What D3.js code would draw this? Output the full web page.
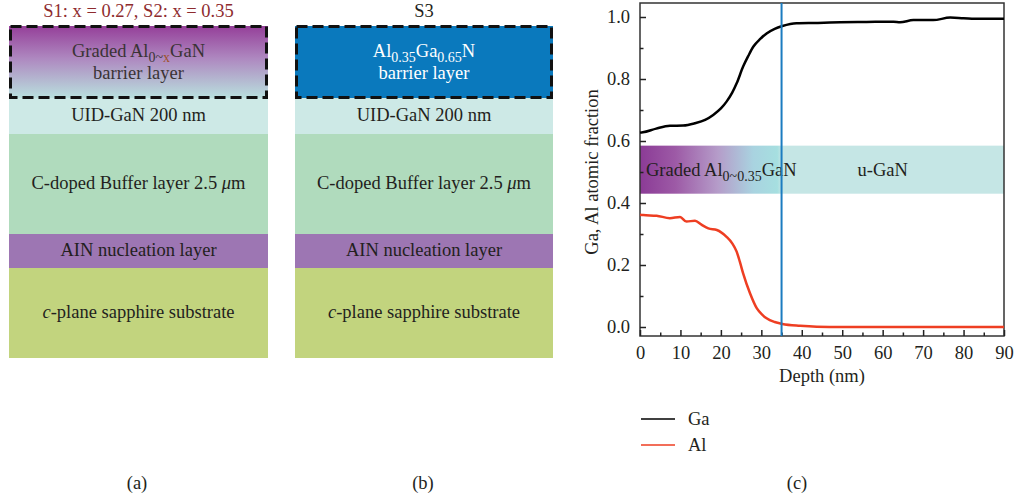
<!DOCTYPE html>
<html>
<head>
<meta charset="utf-8">
<script src="https://cdn.jsdelivr.net/npm/d3@7"></script>
<style>
  body { margin: 0; background: #fff; }
  svg { font-family: "Liberation Serif", "DejaVu Serif", serif; }
</style>
</head>
<body>
<script>
// layer stacks for (a) and (b), top to bottom; numbers are thicknesses on a schematic scale
const layerNames = ["barrier", "UID-GaN 200 nm", "C-doped Buffer layer 2.5 \u03bcm", "AIN nucleation layer", "c-plane sapphire substrate"];
const layerThick = [72, 36, 100, 34, 90];
const layerColors = [null, "#cde9e6", "#b0dbbd", "#9d76b3", "#c2d47e"];

// depth profile (c)
const gaDepth = [0, 0.7, 4, 7.4, 10.7, 13.5, 16.1, 18.1, 20, 21.4, 22.8, 23.9, 25.5, 26.8, 28.0, 29.8, 31.3, 33.3, 35.2, 38.7, 44, 49.5, 56, 62.7, 64.3, 67.6, 72.5, 76.7, 80, 84.1, 90];
const gaFrac  = [0.627, 0.628, 0.640, 0.649, 0.650, 0.657, 0.668, 0.684, 0.705, 0.727, 0.756, 0.786, 0.840, 0.875, 0.904, 0.930, 0.947, 0.962, 0.971, 0.980, 0.981, 0.983, 0.984, 0.985, 0.983, 0.990, 0.990, 0.998, 0.996, 0.994, 0.994];
const alDepth = [0, 0.8, 4.1, 7.4, 9.9, 11.5, 13.6, 15.2, 16.9, 19.0, 21.4, 22.8, 23.9, 24.7, 25.5, 27.2, 28.9, 30.2, 31.3, 33.3, 35.2, 39.6, 43.7, 50, 60, 70, 80, 90];
const alFrac  = [0.362, 0.361, 0.359, 0.351, 0.355, 0.340, 0.343, 0.330, 0.318, 0.313, 0.291, 0.270, 0.243, 0.210, 0.173, 0.109, 0.060, 0.040, 0.028, 0.016, 0.010, 0.004, 0.001, 0.0, 0.0, 0.0, 0.0, 0.0];
const xTicks = [0, 10, 20, 30, 40, 50, 60, 70, 80, 90];
const yTicks = [0.0, 0.2, 0.4, 0.6, 0.8, 1.0];
const interfaceDepth = 35;
const bandRange = [0.43, 0.585];

const fs = 18.5, fsSub = 14;

const svg = d3.select("body").append("svg")
  .attr("width", 1014).attr("height", 498);

const defs = svg.append("defs");
const gradA = defs.append("linearGradient").attr("id", "gradA")
  .attr("x1", 0).attr("y1", 0).attr("x2", 0).attr("y2", 1);
gradA.append("stop").attr("offset", "0%").attr("stop-color", "#953f99");
gradA.append("stop").attr("offset", "45%").attr("stop-color", "#ae88c0");
gradA.append("stop").attr("offset", "100%").attr("stop-color", "#b9e0de");

// ---------- panels (a) and (b) ----------
function drawStack(x0, x1, titleText, titleColor, barrierFill, barrierText, barrierTextColor, caption, captionX) {
  const g = svg.append("g");
  const yScale = d3.scaleLinear().domain([0, d3.sum(layerThick)]).range([26, 358]);
  let acc = 0;
  const tops = layerThick.map(t => { const v = acc; acc += t; return v; });

  g.selectAll("rect.layer")
    .data(layerThick)
    .join("rect")
    .attr("class", "layer")
    .attr("x", x0)
    .attr("width", x1 - x0)
    .attr("y", (d, i) => yScale(tops[i]))
    .attr("height", d => yScale(d) - yScale(0))
    .attr("fill", (d, i) => i === 0 ? barrierFill : layerColors[i]);

  // dashed outline for the barrier
  g.append("rect")
    .attr("x", x0 + 1.5).attr("y", yScale(0) + 0.5)
    .attr("width", x1 - x0 - 3).attr("height", yScale(layerThick[0]) - yScale(0) - 1)
    .attr("fill", "none").attr("stroke", "#111").attr("stroke-width", 3)
    .attr("stroke-dasharray", "11,5");

  const cx = (x0 + x1) / 2;
  const mid = i => yScale(tops[i] + layerThick[i] / 2);

  // barrier text
  const bt = g.append("text").attr("x", cx).attr("y", mid(0) - 5)
    .attr("text-anchor", "middle").attr("font-size", fs).attr("fill", barrierTextColor);
  barrierText.forEach(p => {
    bt.append("tspan").text(p.t)
      .attr("font-size", p.sub ? fsSub : fs)
      .attr("dy", p.dy)
      .attr("fill", p.color || barrierTextColor);
  });
  g.append("text").attr("x", cx).attr("y", mid(0) + 17)
    .attr("text-anchor", "middle").attr("font-size", fs).attr("fill", barrierTextColor)
    .text("barrier layer");

  for (let i = 1; i < layerNames.length; i++) {
    const t = g.append("text").attr("x", cx).attr("y", mid(i) + 5)
      .attr("text-anchor", "middle").attr("font-size", fs).attr("fill", "#231f20");
    if (i === 4) {
      t.append("tspan").attr("font-style", "italic").text("c");
      t.append("tspan").text("-plane sapphire substrate");
    } else if (i === 2) {
      t.append("tspan").text("C-doped Buffer layer 2.5 ");
      t.append("tspan").attr("font-style", "italic").text("\u03bc");
      t.append("tspan").text("m");
    } else {
      t.text(layerNames[i]);
    }
  }

  g.append("text").attr("x", cx).attr("y", 17)
    .attr("text-anchor", "middle").attr("font-size", fs).attr("fill", titleColor)
    .text(titleText);

  svg.append("text").attr("x", captionX).attr("y", 489)
    .attr("text-anchor", "middle").attr("font-size", fs).attr("fill", "#231f20")
    .text(caption);
}

drawStack(9, 268, "S1: x = 0.27, S2: x = 0.35", "#8e2b2e", "url(#gradA)", [
  { t: "Graded Al", dy: 0 },
  { t: "0~", sub: true, dy: 5 },
  { t: "x", sub: true, dy: 0, color: "#a0522d" },
  { t: "GaN", dy: -5 }
], "#3a3335", "(a)", 137);

drawStack(295, 553, "S3", "#231f20", "#0a79bd", [
  { t: "Al", dy: 0 },
  { t: "0.35", sub: true, dy: 5 },
  { t: "Ga", dy: -5 },
  { t: "0.65", sub: true, dy: 5 },
  { t: "N", dy: -5 }
], "#ffffff", "(b)", 423);

// ---------- panel (c) ----------
const x = d3.scaleLinear().domain([0, 90]).range([640, 1004]);
const y = d3.scaleLinear().domain([0, 1]).range([327, 17]);
const frameTop = 3, frameBottom = 336;

const gradB = defs.append("linearGradient").attr("id", "gradB")
  .attr("gradientUnits", "userSpaceOnUse")
  .attr("x1", x(0)).attr("x2", x(interfaceDepth)).attr("y1", 0).attr("y2", 0);
gradB.append("stop").attr("offset", "0%").attr("stop-color", "#8b3b96");
gradB.append("stop").attr("offset", "25%").attr("stop-color", "#9d5aa6");
gradB.append("stop").attr("offset", "55%").attr("stop-color", "#b59cc9");
gradB.append("stop").attr("offset", "80%").attr("stop-color", "#a9d3e0");
gradB.append("stop").attr("offset", "97%").attr("stop-color", "#a6dfe0");
gradB.append("stop").attr("offset", "100%").attr("stop-color", "#c5e6e5");

const c = svg.append("g");

c.append("rect")
  .attr("x", x(0)).attr("width", x(interfaceDepth) - x(0))
  .attr("y", y(bandRange[1])).attr("height", y(bandRange[0]) - y(bandRange[1]))
  .attr("fill", "url(#gradB)");
c.append("rect")
  .attr("x", x(interfaceDepth)).attr("width", x(90) - x(interfaceDepth))
  .attr("y", y(bandRange[1])).attr("height", y(bandRange[0]) - y(bandRange[1]))
  .attr("fill", "#c5e6e5");

const bandMid = y((bandRange[0] + bandRange[1]) / 2) + 6;
const bl = c.append("text").attr("x", x(0) + 6).attr("y", bandMid)
  .attr("font-size", fs).attr("fill", "#231f20");
bl.append("tspan").text("Graded Al");
bl.append("tspan").text("0~0.35").attr("font-size", fsSub).attr("dy", 5);
bl.append("tspan").text("GaN").attr("dy", -5);
c.append("text").attr("x", x(60)).attr("y", bandMid)
  .attr("text-anchor", "middle").attr("font-size", fs).attr("fill", "#231f20")
  .text("u-GaN");

// frame
c.append("rect")
  .attr("x", x(0)).attr("y", frameTop)
  .attr("width", x(90) - x(0)).attr("height", frameBottom - frameTop)
  .attr("fill", "none").attr("stroke", "#333").attr("stroke-width", 1.5);

// axes with inward ticks
c.append("g").attr("transform", `translate(0,${frameBottom})`)
  .call(d3.axisBottom(x).tickValues(xTicks).tickSizeInner(-6).tickSizeOuter(0).tickPadding(10).tickFormat(d3.format("d")));
c.append("g").attr("transform", `translate(0,${frameBottom})`)
  .call(d3.axisBottom(x).tickValues(d3.range(5, 90, 10)).tickSizeInner(-3.5).tickSizeOuter(0).tickFormat(""));
c.append("g").attr("transform", `translate(${x(0)},0)`)
  .call(d3.axisLeft(y).tickValues(yTicks).tickSizeInner(-6).tickSizeOuter(0).tickPadding(10).tickFormat(d3.format(".1f")));
c.append("g").attr("transform", `translate(${x(0)},0)`)
  .call(d3.axisLeft(y).tickValues([0.1, 0.3, 0.5, 0.7, 0.9]).tickSizeInner(-3.5).tickSizeOuter(0).tickFormat(""));

c.selectAll(".domain").remove();
c.selectAll(".tick line").attr("stroke", "#222").attr("stroke-width", 1.5);
c.selectAll(".tick text").attr("font-size", fs).attr("fill", "#231f20")
  .attr("font-family", "Liberation Serif, DejaVu Serif, serif");

// lines
const line = d3.line().x(d => x(d[0])).y(d => y(d[1])).curve(d3.curveMonotoneX);
c.append("path").datum(d3.zip(gaDepth, gaFrac))
  .attr("d", line).attr("fill", "none").attr("stroke", "#000").attr("stroke-width", 2.5);
c.append("path").datum(d3.zip(alDepth, alFrac))
  .attr("d", line).attr("fill", "none").attr("stroke", "#ee3e22").attr("stroke-width", 2.5);

// interface marker
c.append("line")
  .attr("x1", x(interfaceDepth)).attr("x2", x(interfaceDepth))
  .attr("y1", frameTop).attr("y2", frameBottom)
  .attr("stroke", "#1b7cc0").attr("stroke-width", 2);

// axis titles
c.append("text").attr("x", (x(0) + x(90)) / 2).attr("y", 382)
  .attr("text-anchor", "middle").attr("font-size", fs).attr("fill", "#231f20")
  .text("Depth (nm)");
c.append("text").attr("transform", "rotate(-90)")
  .attr("x", -172).attr("y", 598)
  .attr("text-anchor", "middle").attr("font-size", fs).attr("fill", "#231f20")
  .text("Ga, Al atomic fraction");

// legend
const legend = [{ name: "Ga", color: "#000" }, { name: "Al", color: "#ee3e22" }];
const lg = c.selectAll("g.leg").data(legend).join("g").attr("class", "leg")
  .attr("transform", (d, i) => `translate(641,${419 + i * 26})`);
lg.append("line").attr("x1", 0).attr("x2", 34).attr("y1", 0).attr("y2", 0)
  .attr("stroke", d => d.color).attr("stroke-width", 1.5);
lg.append("text").attr("x", 47).attr("y", 6).attr("font-size", fs).attr("fill", "#231f20")
  .text(d => d.name);

svg.append("text").attr("x", 797).attr("y", 489)
  .attr("text-anchor", "middle").attr("font-size", fs).attr("fill", "#231f20")
  .text("(c)");
</script>
</body>
</html>
